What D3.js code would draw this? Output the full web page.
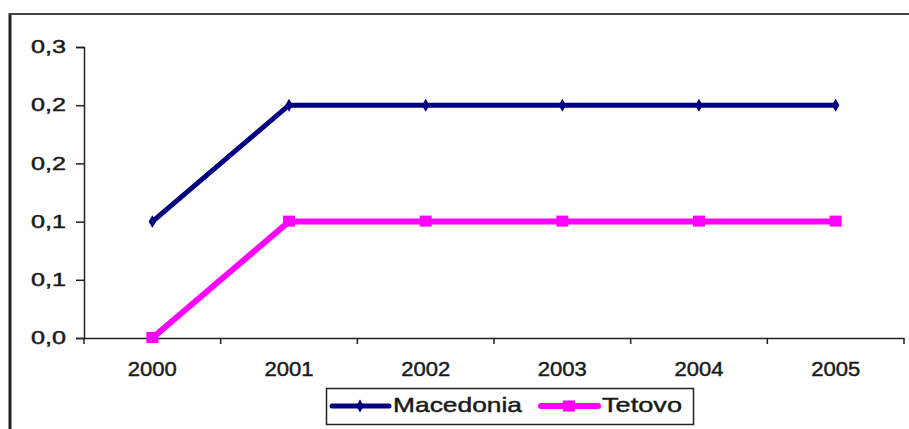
<!DOCTYPE html>
<html lang="en">
<head>
    <meta charset="UTF-8">
    <title>Macedonia Tetovo</title>
    <script src="https://d3js.org/d3.v7.min.js"></script>
    <style>
        body {margin:0;background:#fff}
        text {font-family:"Liberation Sans", Arial, sans-serif;fill:#1a1a1a;stroke:#1a1a1a;stroke-width:0.45px}
    </style>
</head>
<body>
    <div id="chart"></div>
    <script>
        var years = ["2000", "2001", "2002", "2003", "2004", "2005"];
        var macedonia = [0.10, 0.20, 0.20, 0.20, 0.20, 0.20];
        var tetovo = [0.00, 0.10, 0.10, 0.10, 0.10, 0.10];
        var yTicks = [0, 0.05, 0.10, 0.15, 0.20, 0.25];
        var yLabels = ["0,0", "0,1", "0,1", "0,2", "0,2", "0,3"];

        var w = 909, h = 429;
        var svg = d3.select("#chart").append("svg")
            .attr("width", w)
            .attr("height", h);

        // chart frame (only left and top edges show in the crop)
        svg.append("line").attr("x1", 10).attr("y1", 13).attr("x2", 10).attr("y2", h)
            .attr("stroke", "#222").attr("stroke-width", 3);
        svg.append("line").attr("x1", 9).attr("y1", 14).attr("x2", w).attr("y2", 14)
            .attr("stroke", "#444").attr("stroke-width", 2);

        var x = d3.scaleBand().domain(years).range([84, 904]).padding(0);
        var y = d3.scaleLinear().domain([0, 0.25]).range([338, 47]);

        // y axis
        var yAxis = svg.append("g")
            .attr("transform", "translate(84,0)")
            .call(d3.axisLeft(y).tickValues(yTicks).tickFormat((d, i) => yLabels[i]).tickSize(8).tickPadding(10));
        yAxis.select(".domain").attr("stroke", "#222").attr("stroke-width", 1.5);
        yAxis.selectAll(".tick line").attr("stroke", "#222").attr("stroke-width", 1.5);
        yAxis.selectAll(".tick text")
            .attr("font-size", "18px")
            .attr("font-family", "Liberation Sans, Arial, sans-serif")
            .attr("fill", "#1a1a1a")
            .attr("textLength", 35)
            .attr("lengthAdjust", "spacingAndGlyphs");

        // x axis: labels centred in bands, ticks on band boundaries
        var xAxis = svg.append("g")
            .attr("transform", "translate(0,338)")
            .call(d3.axisBottom(x).tickSize(0).tickPadding(24));
        xAxis.select(".domain").attr("stroke", "#222").attr("stroke-width", 1.5);
        xAxis.selectAll(".tick text")
            .attr("font-size", "20px")
            .attr("font-family", "Liberation Sans, Arial, sans-serif")
            .attr("fill", "#1a1a1a")
            .attr("textLength", 49)
            .attr("lengthAdjust", "spacingAndGlyphs");
        var bounds = years.map(d => x(d)).concat([x(years[years.length - 1]) + x.bandwidth()]);
        svg.append("g").selectAll("line")
            .data(bounds)
            .enter()
            .append("line")
            .attr("x1", d => d).attr("x2", d => d)
            .attr("y1", 338).attr("y2", 344)
            .attr("stroke", "#222").attr("stroke-width", 1.5);

        var cx = d => x(d) + x.bandwidth() / 2;
        var line = d3.line().x((d, i) => cx(years[i])).y(d => y(d));

        // Macedonia
        svg.append("path").datum(macedonia)
            .attr("d", line).attr("fill", "none")
            .attr("stroke", "#000080").attr("stroke-width", 5);
        svg.selectAll(".mk").data(macedonia).enter().append("path")
            .attr("class", "mk")
            .attr("transform", (d, i) => `translate(${cx(years[i])},${y(d)})`)
            .attr("d", d3.symbol(d3.symbolDiamond, 48))
            .attr("fill", "#000080");

        // Tetovo
        svg.append("path").datum(tetovo)
            .attr("d", line).attr("fill", "none")
            .attr("stroke", "#ff00ff").attr("stroke-width", 6);
        svg.selectAll(".sq").data(tetovo).enter().append("rect")
            .attr("class", "sq")
            .attr("x", (d, i) => cx(years[i]) - 6)
            .attr("y", d => y(d) - 6)
            .attr("width", 12).attr("height", 11)
            .attr("fill", "#ff00ff");

        // legend
        var lg = svg.append("g");
        lg.append("rect").attr("x", 326.5).attr("y", 388.5).attr("width", 367).attr("height", 36)
            .attr("fill", "#fff").attr("stroke", "#222").attr("stroke-width", 1.5);
        var items = [
            {name: "Macedonia", color: "#000080", x0: 332, tx: 393, tl: 129, sw: 5},
            {name: "Tetovo", color: "#ff00ff", x0: 541, tx: 602, tl: 80, sw: 6}
        ];
        items.forEach(function(it, k) {
            lg.append("line").attr("x1", it.x0).attr("x2", it.x0 + 57)
                .attr("y1", 406).attr("y2", 406)
                .attr("stroke", it.color).attr("stroke-width", it.sw).attr("stroke-linecap", "round");
            if (k === 0) {
                lg.append("path").attr("transform", `translate(${it.x0 + 28},406)`)
                    .attr("d", d3.symbol(d3.symbolDiamond, 48)).attr("fill", it.color);
            } else {
                lg.append("rect").attr("x", it.x0 + 22).attr("y", 400.5).attr("width", 12).attr("height", 11)
                    .attr("fill", it.color);
            }
            lg.append("text").attr("x", it.tx).attr("y", 412)
                .attr("font-size", "21px")
                .attr("textLength", it.tl).attr("lengthAdjust", "spacingAndGlyphs")
                .text(it.name);
        });
    </script>
</body>
</html>
